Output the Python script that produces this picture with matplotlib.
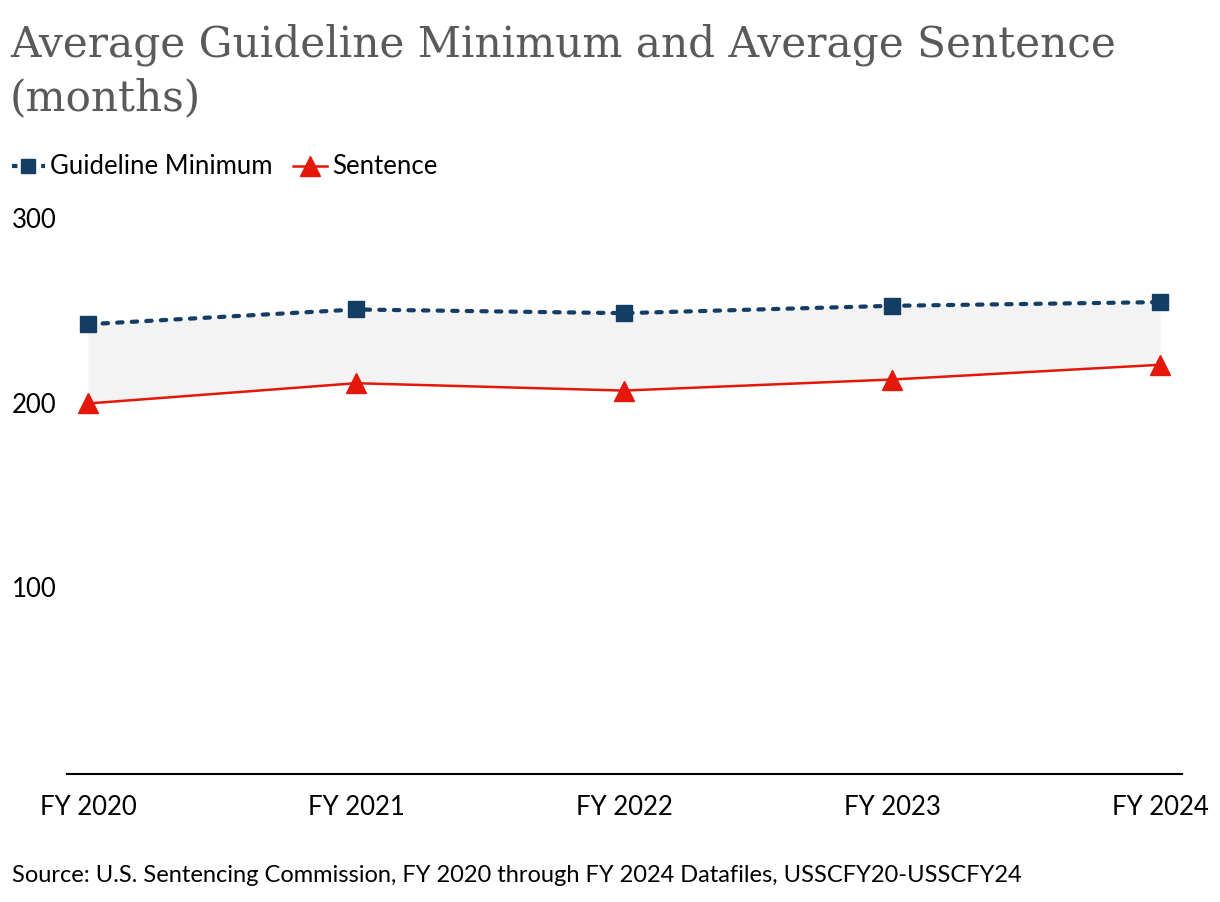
import matplotlib.pyplot as plt
import matplotlib.transforms as mtransforms
from matplotlib.lines import Line2D

years = ["FY 2020", "FY 2021", "FY 2022", "FY 2023", "FY 2024"]
guideline_min = [244, 252, 250, 254, 256]
sentence = [201, 212, 208, 214, 222]
yticks = [100, 200, 300]

navy = "#143d66"
red = "#e3170a"

plt.rcParams["font.family"] = ["Lato", "DejaVu Sans"]

fig = plt.figure(figsize=(12.2, 9.02), dpi=100)
ax = fig.add_axes([67 / 1220, 1 - 774 / 902, (1182 - 67) / 1220, (774 - 221) / 902])

x = list(range(len(years)))
ax.fill_between(x, sentence, guideline_min, color="#f3f3f3", lw=0)
ax.plot(x, guideline_min, color=navy, lw=3, linestyle=(0, (1.3, 2.2)),
        dash_capstyle="round", marker="s", markersize=12, clip_on=False, zorder=3)
ax.plot(x, sentence, color=red, lw=1.8, marker="^", markersize=15,
        clip_on=False, zorder=3)

ax.set_xlim(-21 / 268, 4 + 22 / 268)
ax.set_ylim(0, 300)
for s in ["top", "right", "left"]:
    ax.spines[s].set_visible(False)
ax.spines["bottom"].set_linewidth(1.5)
ax.set_xticks(x)
ax.set_xticklabels(years, fontsize=18.5)
ax.tick_params(axis="x", length=0, pad=15)
ax.set_yticks([])

trans = mtransforms.blended_transform_factory(fig.transFigure, ax.transData)
for v in yticks:
    ax.text(12 / 1220, v, str(v), transform=trans, fontsize=18.5, ha="left", va="center")

title_lines = ["Average Guideline Minimum and Average Sentence", "(months)"]
fig.text(10 / 1220, 1 - 56 / 902, title_lines[0], family="DejaVu Serif", fontsize=30.4,
         color="#5a5a5a", ha="left", va="baseline")
fig.text(10 / 1220, 1 - 110 / 902, title_lines[1], family="DejaVu Serif", fontsize=30.4,
         color="#5a5a5a", ha="left", va="baseline")

handles = [Line2D([], [], color=navy, lw=3, linestyle=(0, (1.3, 2.2)), marker="s", markersize=10),
           Line2D([], [], color=red, lw=1.8, marker="^", markersize=14)]
fig.legend(handles, ["Guideline Minimum", "Sentence"], loc="center left",
           bbox_to_anchor=(4 / 1220, 1 - 167 / 902), ncol=2, frameon=False, fontsize=18.5,
           handlelength=1.3, handletextpad=0.2, columnspacing=0.8, borderaxespad=0,
           borderpad=0.3)

fig.text(12 / 1220, 1 - 876 / 902,
         "Source: U.S. Sentencing Commission, FY 2020 through FY 2024 Datafiles, USSCFY20-USSCFY24",
         fontsize=17, ha="left", va="center")

fig.savefig("out.png", dpi=100)
